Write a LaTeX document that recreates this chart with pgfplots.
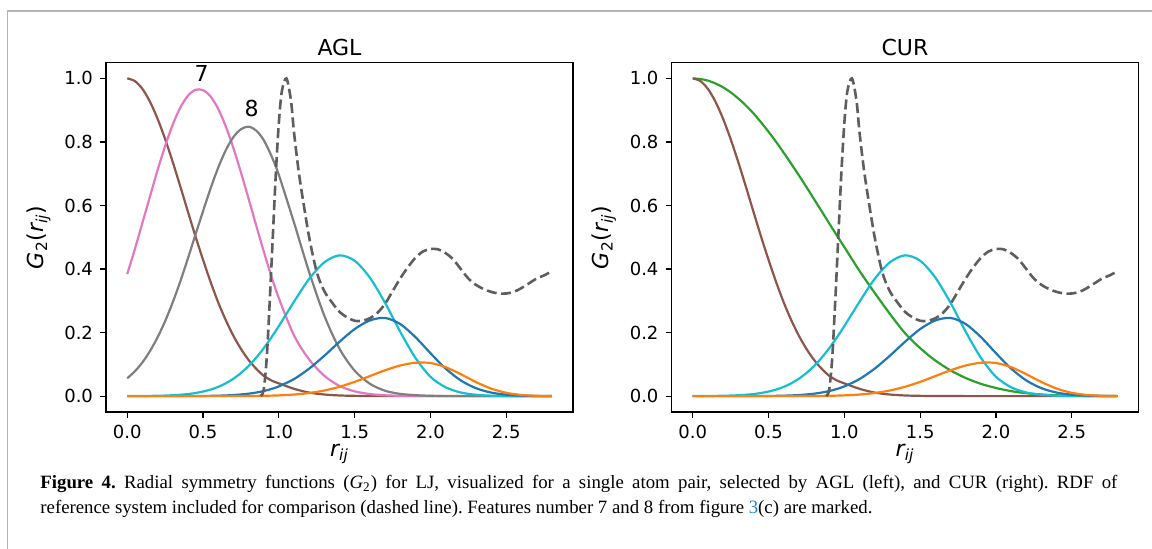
\documentclass[border=0pt]{standalone}
\usepackage{pgfplots}
\pgfplotsset{compat=1.18}
\usepackage{pgfplotstable}
\usepackage{fontspec}
\setmainfont{DejaVu Sans}
\newfontfamily\capfont{Liberation Serif}

\definecolor{tabblue}{HTML}{1F77B4}
\definecolor{taborange}{HTML}{FF7F0E}
\definecolor{tabgreen}{HTML}{2CA02C}
\definecolor{tabbrown}{HTML}{8C564B}
\definecolor{tabpink}{HTML}{E377C2}
\definecolor{tabgray}{HTML}{7F7F7F}
\definecolor{tabcyan}{HTML}{17BECF}
\definecolor{rdfgray}{HTML}{5E5E5E}
\definecolor{framegray}{HTML}{B4B4B4}
\definecolor{linkblue}{HTML}{2A86C8}

% radial symmetry functions G2
\pgfplotstableread{
r    brown  pink   gray   cyan    blue    orange  green
0.0  1.000  0.384  0.056  0.0001  0.0     0.0     1.000
0.05 0.9916 0.462  0.078  0.0001  0.0     0.0     0.998
0.1  0.967  0.545  0.106  0.0004  0.0     0.0     0.993
0.15 0.9266 0.628  0.1416 0.0007  0.0     0.0     0.984
0.2  0.873  0.711  0.185  0.0010  0.0     0.0     0.972
0.25 0.809  0.787  0.236  0.0017  0.0     0.0     0.956
0.3  0.737  0.854  0.295  0.0027  0.0     0.0     0.937
0.35 0.660  0.908  0.361  0.0042  0.0     0.0     0.915
0.4  0.581  0.945  0.433  0.0064  0.0001  0.0     0.890
0.45 0.503  0.964  0.508  0.0097  0.0002  0.0     0.862
0.5  0.429  0.963  0.582  0.0143  0.0005  0.0     0.832
0.55 0.359  0.943  0.654  0.0206  0.0008  0.0     0.800
0.6  0.295  0.904  0.719  0.0290  0.0013  0.0001  0.766
0.65 0.239  0.849  0.774  0.0403  0.0021  0.0001  0.731
0.7  0.190  0.781  0.815  0.0547  0.0033  0.0002  0.695
0.75 0.1486 0.704  0.840  0.0727  0.0051  0.0003  0.658
0.8  0.114  0.622  0.848  0.0946  0.0076  0.0004  0.620
0.85 0.0864 0.538  0.836  0.1206  0.0111  0.0007  0.582
0.9  0.064  0.456  0.806  0.1506  0.0159  0.0010  0.544
0.95 0.0494 0.378  0.757  0.184   0.0223  0.0015  0.506
1.0  0.040  0.308  0.696  0.2205  0.0306  0.0023  0.469
1.1  0.023  0.191  0.546  0.297   0.0537  0.0049  0.394
1.2  0.011  0.115  0.390  0.369   0.0865  0.0097  0.325
1.3  0.005  0.064  0.253  0.421   0.127   0.0176  0.259
1.4  0.002  0.032  0.149  0.443   0.171   0.0293  0.198
1.5  0.0008 0.015  0.080  0.426   0.211   0.0448  0.151
1.6  0.0003 0.0065 0.039  0.373   0.238   0.063   0.112
1.7  0.0001 0.0025 0.017  0.294   0.246   0.0812  0.081
1.8  0.0    0.0009 0.007  0.203   0.227   0.0963  0.057
1.9  0.0    0.0003 0.003  0.121   0.186   0.1049  0.0387
2.0  0.0    0.0001 0.001  0.0607  0.135   0.1042  0.0255
2.1  0.0    0.0    0.0004 0.0278  0.0866  0.091   0.0156
2.2  0.0    0.0    0.0001 0.0113  0.0493  0.0689  0.0091
2.3  0.0    0.0    0.0    0.0042  0.0249  0.0442  0.005
2.4  0.0    0.0    0.0    0.0014  0.0111  0.0237  0.0025
2.5  0.0    0.0    0.0    0.0004  0.0044  0.0103  0.0012
2.6  0.0    0.0    0.0    0.0001  0.0015  0.0036  0.0005
2.7  0.0    0.0    0.0    0.0     0.0004  0.0010  0.0001
2.8  0.0    0.0    0.0    0.0     0.0     0.0     0.0
}\gtwo

% RDF of the reference system (dashed)
\pgfplotstableread{
r    g
0.88 0.0
0.90 0.02
0.92 0.12
0.94 0.30
0.96 0.50
0.98 0.70
1.00 0.86
1.02 0.96
1.05 1.00
1.08 0.93
1.10 0.83
1.13 0.71
1.16 0.615
1.20 0.50
1.25 0.39
1.30 0.33
1.35 0.295
1.40 0.265
1.45 0.248
1.50 0.237
1.55 0.237
1.60 0.245
1.65 0.262
1.70 0.29
1.75 0.33
1.80 0.37
1.85 0.405
1.90 0.435
1.95 0.455
2.00 0.463
2.05 0.462
2.10 0.45
2.15 0.43
2.20 0.40
2.25 0.37
2.30 0.35
2.35 0.337
2.40 0.328
2.45 0.323
2.50 0.323
2.55 0.328
2.60 0.34
2.65 0.355
2.70 0.37
2.75 0.38
2.80 0.393
}\rdf

\pgfplotsset{
  rsf/.style={
    width=233.5pt, height=174.75pt, scale only axis,
    xmin=-0.14, xmax=2.94, ymin=-0.05, ymax=1.05,
    xtick={0,0.5,1.0,1.5,2.0,2.5},
    ytick={0,0.2,0.4,0.6,0.8,1.0},
    tick align=outside, tick pos=left,
    major tick length=3pt,
    every tick/.style={black, line width=0.6pt},
    axis line style={line width=0.7pt},
    ticklabel style={font=\fontsize{9}{10}\selectfont},
    /pgf/number format/.cd, fixed, fixed zerofill, precision=1,
    assume math mode=true, /pgfplots/.cd,
    title style={font=\fontsize{11}{13}\selectfont, yshift=-6pt},
    label style={font=\fontsize{11}{13}\selectfont},
    xlabel style={yshift=4pt},
    xlabel={\itshape r\textsubscript{ij}},
    ylabel={{\itshape G}\textsubscript{2}({\itshape r}\textsubscript{\itshape ij})},
    clip=false,
    every axis plot/.append style={smooth, line width=1.1pt, no markers},
  },
  rdfline/.style={rdfgray, line width=1.3pt, dash pattern=on 5pt off 2.2pt},
}

\begin{document}
\begin{tikzpicture}
\path[use as bounding box] (0,0) rectangle (576pt,274.5pt);
% page frame
\draw[framegray, line width=0.8pt] (3.75pt,0) -- (3.75pt,269pt) -- (576pt,269pt);

\begin{axis}[rsf, at={(53pt,68.5pt)}, anchor=south west, title={AGL}]
  \addplot[tabbrown] table[x=r, y=brown] {\gtwo};
  \addplot[tabpink]  table[x=r, y=pink]  {\gtwo};
  \addplot[tabgray]  table[x=r, y=gray]  {\gtwo};
  \addplot[tabcyan]  table[x=r, y=cyan]  {\gtwo};
  \addplot[tabblue]  table[x=r, y=blue]  {\gtwo};
  \addplot[taborange] table[x=r, y=orange] {\gtwo};
  \addplot[rdfline]  table[x=r, y=g] {\rdf};
  \node[font=\fontsize{11}{13}\selectfont] at (axis cs:0.49,1.015) {7};
  \node[font=\fontsize{11}{13}\selectfont] at (axis cs:0.82,0.905) {8};
\end{axis}

\begin{axis}[rsf, at={(335.75pt,68.5pt)}, anchor=south west, title={CUR}]
  \addplot[tabgreen] table[x=r, y=green] {\gtwo};
  \addplot[tabbrown] table[x=r, y=brown] {\gtwo};
  \addplot[tabcyan]  table[x=r, y=cyan]  {\gtwo};
  \addplot[tabblue]  table[x=r, y=blue]  {\gtwo};
  \addplot[taborange] table[x=r, y=orange] {\gtwo};
  \addplot[rdfline]  table[x=r, y=g] {\rdf};
\end{axis}

\node[anchor=north west, inner sep=0pt, text width=538.5pt, align=justify,
      font=\capfont\fontsize{9.4}{12.5}\selectfont\frenchspacing] at (20pt,37pt)
  {\textbf{Figure 4.} Radial symmetry functions ({\itshape G}\textsubscript{2}) for LJ, visualized for a single atom pair, selected by AGL (left), and CUR (right). RDF of\linebreak reference system included for comparison (dashed line). Features number 7 and 8 from figure \textcolor{linkblue}{3}(c) are marked.};
\end{tikzpicture}
\end{document}
